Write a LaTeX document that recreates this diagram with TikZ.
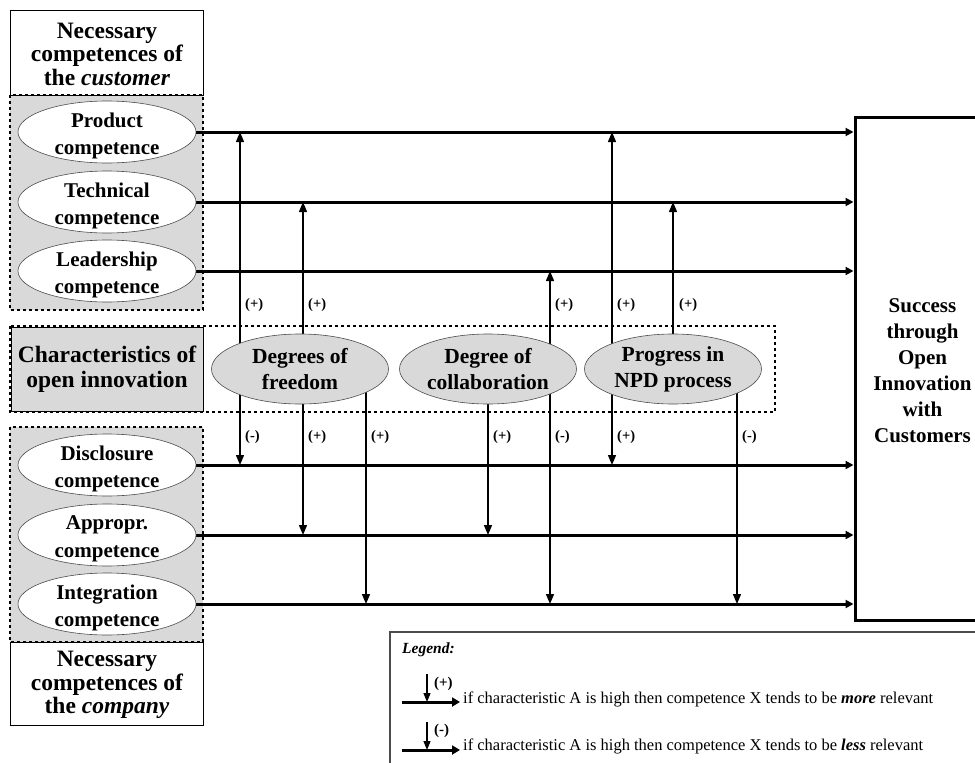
\documentclass[tikz,border=0pt]{standalone}
\usepackage{fontspec}
\setmainfont{Liberation Serif}
\usetikzlibrary{arrows.meta,shapes.geometric}
\definecolor{boxgray}{HTML}{D9D9D9}
\pgfdeclarelayer{bg}
\pgfsetlayers{bg,main}

\begin{document}
\begin{tikzpicture}[x=1pt,y=-1pt,
  compshape/.style={ellipse,draw=black!70,line width=0.6pt,fill=white,
    minimum width=178pt,minimum height=62pt,inner sep=0pt},
  comp/.style={compshape,label={[align=center,inner sep=0pt,yshift=-4pt,
    font=\fontsize{21}{27.5}\selectfont\bfseries]center:#1}},
  chr/.style={compshape,fill=boxgray,minimum width=177pt,minimum height=70pt,
    align=center,font=\fontsize{21.5}{26}\selectfont\bfseries},
  head/.style={align=center,inner sep=0pt,font=\fontsize{23.5}{23.5}\selectfont\bfseries},
  hline/.style={line width=3pt,-{Triangle[length=8pt,width=8pt]}},
  vtip/.tip={Triangle[length=10pt,width=8pt]},
  vline/.style={line width=1.4pt},
  sign/.style={anchor=west,inner sep=0pt,font=\fontsize{14.5}{14.5}\selectfont\bfseries},
  legtext/.style={anchor=west,inner sep=0pt,font=\fontsize{16.5}{16.5}\selectfont},
  dashbox/.style={dashed,line width=1.2pt},
]
\useasboundingbox (0,0) rectangle (975,763);

% ---------- frames ----------
\begin{pgfonlayer}{bg}
  \fill[boxgray] (10,95) rectangle (203,310);
  \draw[dashbox] (10,95) rectangle (203,310);
  \fill[boxgray] (10,427) rectangle (203,642);
  \draw[dashbox] (10,427) rectangle (203,642);
  \draw[dashbox] (10,326) rectangle (775,412);
  \draw[line width=1pt,fill=boxgray] (11,327) rectangle (203,411);
\end{pgfonlayer}
\draw[line width=1pt] (10,10) rectangle (203,95);
\draw[line width=1pt] (10,642) rectangle (203,725);

\node[head] (hcust) at (107,54) {Necessary\\competences of\\the \textit{customer}};
\node[head] (hcomp) at (107,685) {Necessary\\competences of\\the \textit{company}};
\node[head,font=\fontsize{23.5}{25}\selectfont\bfseries] (hchar) at (107,369) {Characteristics of\\open innovation};

% ---------- competences ----------
\node[comp={Product\\competence}] (prod) at (107,132) {};
\node[comp={Technical\\competence}] (tech) at (107,202) {};
\node[comp={Leadership\\competence}] (lead) at (107,271) {};
\node[comp={Disclosure\\competence}] (disc) at (107,465) {};
\node[comp={Appropr.\\competence}] (appr) at (107,535) {};
\node[comp={Integration\\competence}] (integ) at (107,604) {};

% ---------- characteristics ----------
\node[chr] (dof) at (300,369) {Degrees of\\freedom};
\node[chr] (coll) at (488,369) {Degree of\\collaboration};
\node[chr] (npd) at (673,369) {Progress in\\NPD process};

% ---------- outcome ----------
\node[draw,line width=3pt,minimum width=135pt,minimum height=503pt,inner sep=0pt] (succ) at (922.5,368.5) {};
\node[align=center,inner sep=0pt,font=\fontsize{21}{26}\selectfont\bfseries]
  (succtext) at (922.5,371) {Success\\through\\Open\\Innovation\\with\\Customers};

% ---------- competence lines ----------
\begin{pgfonlayer}{bg}
\foreach \c in {prod,tech,lead,disc,appr,integ}
  \draw[hline] (\c.east) -- (\c.east -| succ.west);

% ---------- influence arrows ----------
\coordinate (x1) at (240,369);
\coordinate (x2) at (303,369);
\coordinate (x3) at (366,369);
\coordinate (x4) at (488,369);
\coordinate (x5) at (550,369);
\coordinate (x6) at (612,369);
\coordinate (x7) at (673,369);
\coordinate (x8) at (737,369);

\draw[vline,vtip-vtip] (x1 |- disc) -- (x1 |- prod);
\draw[vline,vtip-vtip] (x2 |- appr) -- (x2 |- tech);
\draw[vline,-vtip] (x3) -- (x3 |- integ);
\draw[vline,-vtip] (x4) -- (x4 |- appr);
\draw[vline,vtip-vtip] (x5 |- integ) -- (x5 |- lead);
\draw[vline,vtip-vtip] (x6 |- disc) -- (x6 |- prod);
\draw[vline,-vtip] (x7) -- (x7 |- tech);
\draw[vline,-vtip] (x8) -- (x8 |- integ);
\end{pgfonlayer}

% upper signs
\node[sign] (s1) at (245,305) {(+)};
\node[sign] (s2) at (308,305) {(+)};
\node[sign] (s3) at (555,305) {(+)};
\node[sign] (s4) at (617,305) {(+)};
\node[sign] (s5) at (679,305) {(+)};
% lower signs
\node[sign] (s6) at (245,437) {(-)};
\node[sign] (s7) at (308,437) {(+)};
\node[sign] (s8) at (371,437) {(+)};
\node[sign] (s9) at (493,437) {(+)};
\node[sign] (s10) at (555,437) {(-)};
\node[sign] (s11) at (617,437) {(+)};
\node[sign] (s12) at (742,437) {(-)};

% ---------- legend ----------
\draw[line width=1.5pt,draw=black!70] (390,632) rectangle (1000,800);
\node[anchor=west,inner sep=0pt,font=\fontsize{15.5}{15.5}\selectfont\bfseries\itshape] (leg) at (402,650) {Legend:};

\coordinate (la) at (402,702);
\coordinate (lb) at (460,702);
\coordinate (lc) at (427,674);
\draw[line width=3pt,-{Triangle[length=8pt,width=9pt]}] (la) -- (lb);
\draw[line width=1.2pt,-{Triangle[length=9pt,width=7pt]}] (lc) -- (lc |- la);
\node[sign,font=\fontsize{15}{15}\selectfont\bfseries] (lp) at (434,684) {(+)};
\node[legtext] (lt1) at (463,699)
  {if characteristic A is high then competence X tends to be \textbf{\textit{more}} relevant};

\coordinate (ld) at (402,750);
\coordinate (le) at (460,750);
\coordinate (lf) at (427,722);
\draw[line width=3pt,-{Triangle[length=8pt,width=9pt]}] (ld) -- (le);
\draw[line width=1.2pt,-{Triangle[length=9pt,width=7pt]}] (lf) -- (lf |- ld);
\node[sign,font=\fontsize{15}{15}\selectfont\bfseries] (lm) at (434,731) {(-)};
\node[legtext] (lt2) at (463,746)
  {if characteristic A is high then competence X tends to be \textbf{\textit{less}} relevant};
\end{tikzpicture}
\end{document}
